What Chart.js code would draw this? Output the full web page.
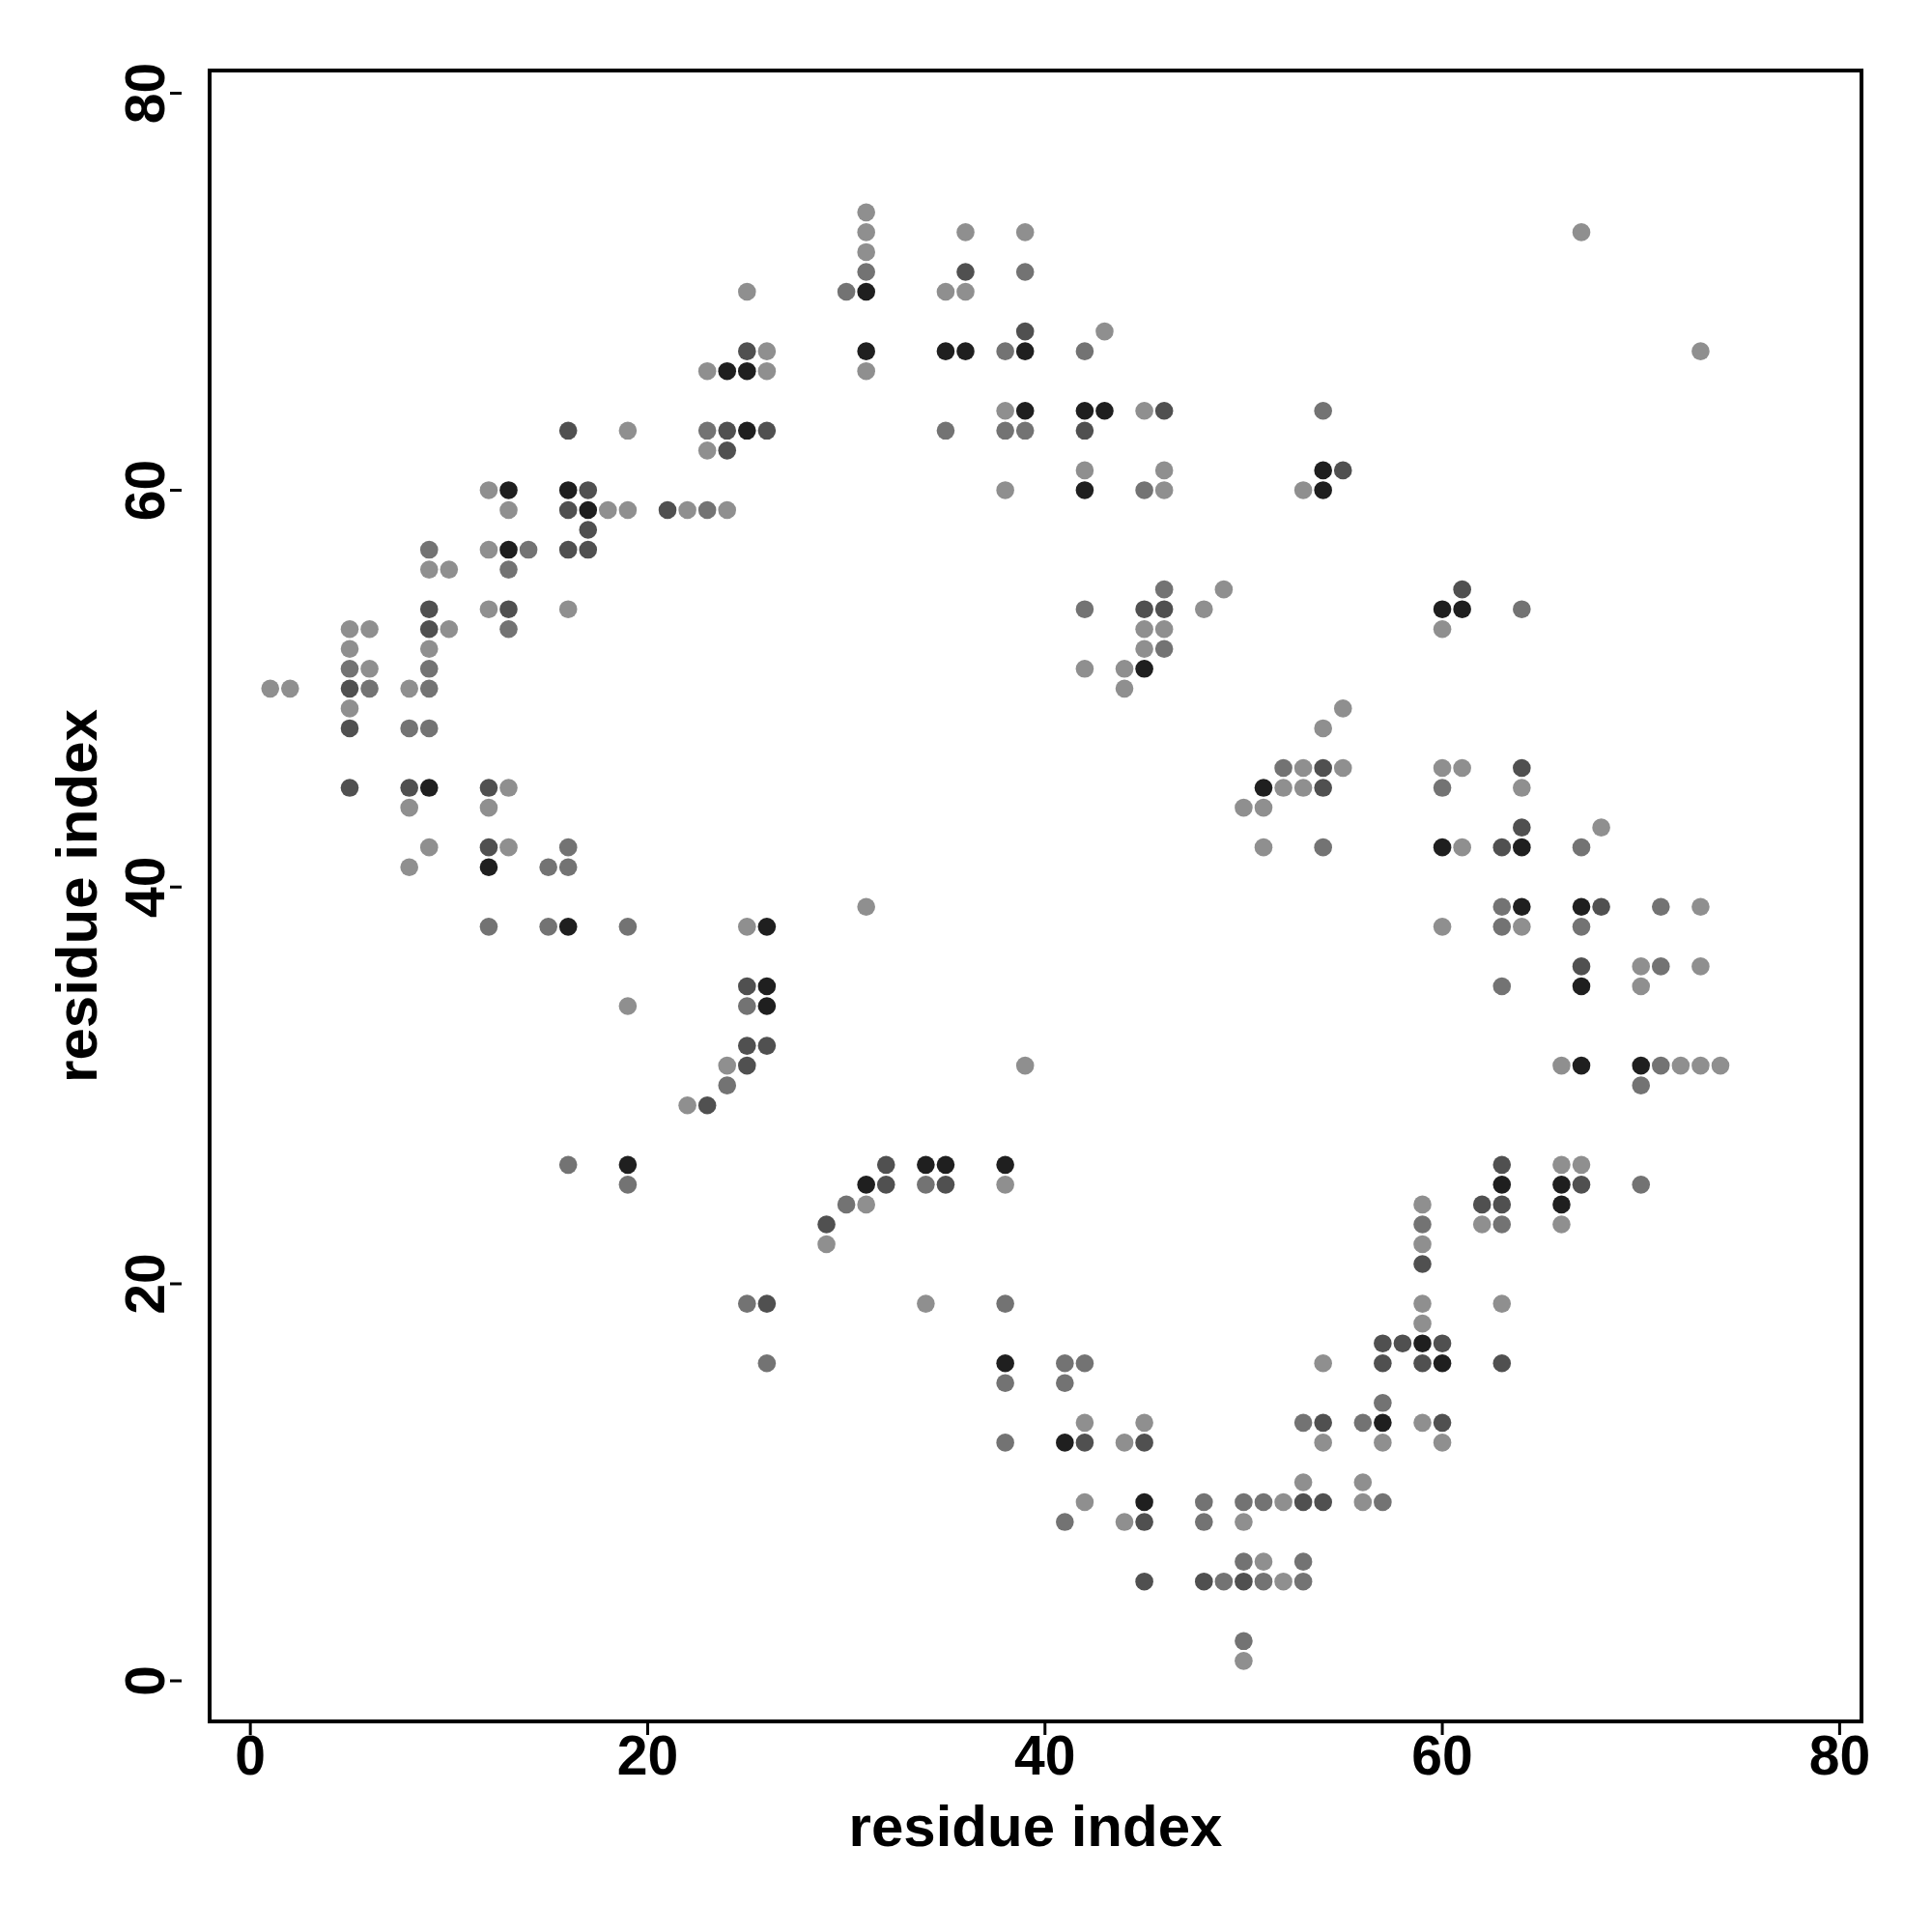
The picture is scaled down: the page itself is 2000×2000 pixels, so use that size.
<!DOCTYPE html>
<html>
<head>
<meta charset="utf-8">
<script src="https://cdn.jsdelivr.net/npm/chart.js@4.4.0/dist/chart.umd.min.js"></script>
<style>
  html, body { margin: 0; padding: 0; background: #fff; }
  #wrap { width: 2000px; height: 2000px; }
</style>
</head>
<body>
<div id="wrap"><canvas id="contactMap" width="2000" height="2000"></canvas></div>
<script>
// contact pairs, grouped by grey level of the dot
var lightPts = [[1,50],[2,50],[5,53],[5,52],[5,49],[6,53],[6,51],[8,50],[8,44],[8,41],[9,56],[9,52],[9,42],[10,56],[10,53],
  [12,60],[12,57],[12,54],[12,44],[13,59],[13,45],[13,42],[16,54],[18,59],[19,63],[19,59],[19,34],[22,59],[22,29],[23,66],
  [23,62],[24,59],[24,31],[25,70],[25,38],[26,67],[26,66],[29,22],[31,74],[31,73],[31,72],[31,66],[31,39],[31,24],[34,19],
  [35,70],[36,73],[36,70],[38,64],[38,60],[38,25],[39,73],[39,31],[42,61],[42,51],[42,13],[42,9],[43,68],[44,51],[44,50],
  [44,12],[44,8],[45,64],[45,53],[45,52],[45,13],[46,61],[46,60],[46,53],[48,54],[49,55],[50,44],[50,8],[50,1],[51,44],
  [51,42],[51,6],[52,45],[52,9],[52,5],[53,60],[53,46],[53,45],[53,10],[54,48],[54,16],[54,12],[55,49],[55,46],[56,10],
  [56,9],[57,12],[59,24],[59,22],[59,19],[59,18],[59,13],[60,53],[60,46],[60,38],[60,12],[61,46],[61,42],[62,23],[63,19],
  [64,45],[64,38],[66,31],[66,26],[66,23],[67,73],[67,26],[68,43],[70,36],[70,35],[72,31],[73,67],[73,39],[73,36],[73,31],[74,31]];

var midPts = [[5,51],[6,50],[8,48],[9,57],[9,51],[9,50],[9,48],[12,38],[13,56],[13,53],[14,57],[15,41],[15,38],[16,42],
  [16,41],[16,26],[19,38],[19,25],[23,63],[23,59],[24,30],[25,34],[25,19],[26,16],[30,70],[30,24],[31,71],[34,25],[35,63],
  [38,67],[38,63],[38,19],[38,15],[38,12],[39,71],[39,63],[41,16],[41,15],[41,8],[42,67],[42,54],[42,16],[45,60],[46,55],
  [46,52],[48,9],[48,8],[49,5],[50,9],[50,6],[50,2],[51,9],[51,5],[52,46],[53,13],[53,6],[53,5],[54,64],[54,42],[56,13],
  [57,14],[57,9],[59,23],[60,45],[63,39],[63,38],[63,35],[63,23],[64,54],[67,42],[67,38],[70,30],[70,25],[71,39],[71,36],[71,31]];

var darkPts = [[5,50],[5,48],[5,45],[8,45],[9,54],[9,53],[12,45],[12,42],[13,54],[16,63],[16,59],[16,57],[17,60],[17,58],
  [17,57],[21,59],[23,29],[24,63],[24,62],[25,67],[25,35],[25,32],[25,31],[26,63],[26,32],[26,19],[29,23],[32,26],[32,25],
  [35,25],[36,71],[39,68],[42,63],[42,12],[45,54],[45,12],[45,8],[45,5],[46,64],[46,54],[48,5],[50,5],[53,9],[54,46],
  [54,45],[54,13],[54,9],[55,61],[57,17],[57,16],[58,17],[59,21],[59,16],[60,17],[60,13],[61,55],[62,24],[63,42],[63,26],
  [63,24],[63,16],[64,46],[64,43],[67,36],[67,25],[68,39]];

var blackPts = [[9,45],[12,41],[13,60],[13,57],[16,60],[16,38],[17,59],[19,26],[24,66],[25,66],[25,63],[26,38],[26,35],
  [26,34],[31,70],[31,67],[31,25],[34,26],[35,67],[35,26],[36,67],[38,26],[38,16],[39,67],[39,64],[41,12],[42,64],[42,60],
  [43,64],[45,51],[45,9],[51,45],[54,61],[54,60],[57,13],[59,17],[60,54],[60,42],[60,16],[61,54],[63,25],[64,42],[64,39],
  [66,25],[66,24],[67,39],[67,35],[67,31],[70,31]];

var tickValues = [0, 20, 40, 60, 80];
var axisLabel = "residue index";

var greys = ["#8f8f8f", "#737373", "#505050", "#1f1f1f"];
var groups = [lightPts, midPts, darkPts, blackPts];

function toXY(list) {
    var out = [];
    for (var i = 0; i < list.length; i++) {
        out.push({ x: list[i][0], y: list[i][1] });
    }
    return out;
}

var datasets = [];
for (var g = 0; g < groups.length; g++) {
    datasets.push({
        data: toXY(groups[g]),
        backgroundColor: greys[g],
        borderWidth: 0,
        pointRadius: 9.3,
        pointHoverRadius: 9.3
    });
}

var tickFont = { family: "'Liberation Sans', Arial, sans-serif", weight: "bold", size: 57 };
var titleFont = { family: "'Liberation Sans', Arial, sans-serif", weight: "bold", size: 60 };

// box and R-style tick marks
var frame = {
    id: "frame",
    afterDraw: function(chart) {
        var ctx = chart.ctx;
        var a = chart.chartArea;
        var xs = chart.scales.x, ys = chart.scales.y;
        ctx.save();
        ctx.strokeStyle = "#000";
        ctx.lineWidth = 4;
        ctx.strokeRect(a.left, a.top, a.right - a.left, a.bottom - a.top);
        ctx.lineWidth = 3;
        ctx.beginPath();
        for (var i = 0; i < tickValues.length; i++) {
            var py = ys.getPixelForValue(tickValues[i]);
            ctx.moveTo(176, py);
            ctx.lineTo(188, py);
            var px = xs.getPixelForValue(tickValues[i]);
            ctx.moveTo(px, a.bottom + 2);
            ctx.lineTo(px, a.bottom + 14);
        }
        ctx.stroke();
        ctx.restore();
    }
};

var ctx = document.getElementById("contactMap").getContext("2d");
var chart = new Chart(ctx, {
    type: "scatter",
    data: { datasets: datasets },
    plugins: [frame],
    options: {
        responsive: false,
        animation: false,
        devicePixelRatio: 1,
        layout: { padding: { left: 0, top: 73, right: 73, bottom: 0 } },
        plugins: { legend: { display: false }, tooltip: { enabled: false } },
        scales: {
            x: {
                type: "linear",
                min: -2.05,
                max: 81.1,
                afterBuildTicks: function(s) { s.ticks = tickValues.map(function(v) { return { value: v }; }); },
                afterFit: function(s) { s.height = 218; },
                grid: { display: false, drawTicks: false },
                border: { display: false },
                ticks: { autoSkip: false, maxRotation: 0, padding: 5, color: "#000", font: tickFont },
                title: { display: true, text: axisLabel, color: "#000", font: titleFont, padding: { top: 0, bottom: 70 } }
            },
            y: {
                type: "linear",
                min: -2.05,
                max: 81.15,
                afterBuildTicks: function(s) { s.ticks = tickValues.map(function(v) { return { value: v }; }); },
                afterFit: function(s) { s.width = 217; },
                grid: { display: false, drawTicks: false },
                border: { display: false },
                ticks: { autoSkip: false, minRotation: 90, maxRotation: 90, crossAlign: "center", padding: 31, color: "#000", font: tickFont },
                title: { display: true, text: axisLabel, color: "#000", font: titleFont, padding: { top: 47, bottom: 0 } }
            }
        }
    }
});
</script>
</body>
</html>
